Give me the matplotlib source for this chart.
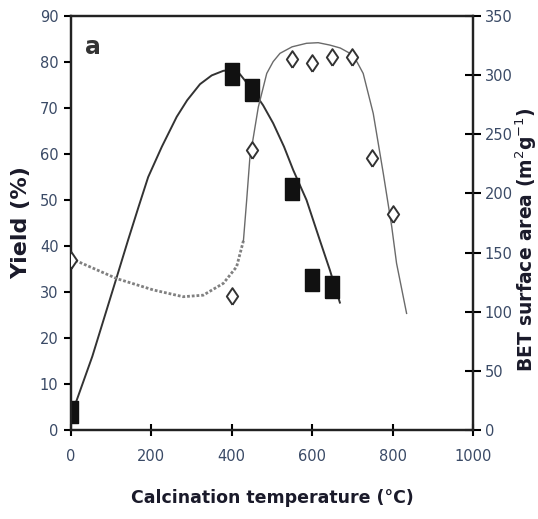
import matplotlib

matplotlib.use("Agg")
import matplotlib.pyplot as plt

# measured points
temp_yield = [0, 400, 450, 550, 600, 650]
yield_pct = [4, 77.5, 74, 52.4, 32.6, 31.2]

temp_bet = [0, 400, 450, 550, 600, 650, 700, 750, 800]
bet_area = [144, 113, 237, 314, 310, 315, 315, 230, 183]

# fitted trend lines, traced points
fit_yield_t = [0, 53, 114, 142, 168, 192, 226, 263, 289, 321, 350, 379, 400, 420, 451,
               478, 503, 530, 553, 586, 619, 644, 669]
fit_yield_v = [3, 16, 33.3, 41.3, 48.5, 55, 61.6, 68.1, 71.7, 75.2, 77.1, 78.1, 78.3, 77.4,
               74, 70.6, 66.7, 61.6, 56.5, 50, 41.3, 34.8, 27.7]

fit_bet_low_t = [0, 114, 205, 279, 329, 379, 412, 429]
fit_bet_low_v = [145, 128, 118.4, 112.7, 114, 124, 138, 160]
fit_bet_high_t = [429, 437, 445, 450, 466, 487, 503, 520, 550, 586, 615, 644, 670, 694,
                  712, 727, 752, 777, 798, 810, 835]
fit_bet_high_v = [160, 194, 230, 240, 273, 301.5, 311.5, 318.5, 324, 327, 327.5, 325.5,
                  323, 318.5, 311, 301.5, 267.7, 217, 172, 141, 98.6]

# tall markers (the chart is drawn slightly stretched vertically)
rect_marker = [(-0.64, -1), (0.64, -1), (0.64, 1), (-0.64, 1), (-0.64, -1)]
diamond_marker = [(0, -1), (0.68, 0), (0, 1), (-0.68, 0), (0, -1)]

fam = ["DejaVu Sans"]
fig = plt.figure(figsize=(5.38, 5.19), dpi=100)
ax = fig.add_axes([0.132, 0.1715, 0.747, 0.7975])
ax2 = ax.twinx()

ax.plot(fit_yield_t, fit_yield_v, color="#333333", lw=1.4, zorder=3)
ax.plot(temp_yield, yield_pct, ls="none", marker=rect_marker, color="#111111",
        ms=16.5, zorder=4)

ax2.plot(fit_bet_low_t, fit_bet_low_v, color="#808080", lw=2.0, ls=(0, (1.0, 0.7)), zorder=2)
ax2.plot(fit_bet_high_t, fit_bet_high_v, color="#6a6a6a", lw=1.0, zorder=2)
ax2.plot(temp_bet, bet_area, ls="none", marker=diamond_marker, mfc="white", mec="#333333",
         mew=1.4, ms=12, zorder=5)

ax.set_xlim(0, 1000)
ax.set_ylim(0, 90)
ax2.set_ylim(0, 350)
ax.set_xticks(range(0, 1001, 200))
ax.set_yticks(range(0, 91, 10))
ax2.set_yticks(range(0, 351, 50))

tick_color = "#3a4a66"
for a in (ax, ax2):
    for s in a.spines.values():
        s.set_linewidth(1.6)
        s.set_color("#222222")
    for lab in a.get_xticklabels() + a.get_yticklabels():
        lab.set_fontfamily(fam)
        lab.set_fontsize(10.5)
        lab.set_color(tick_color)
ax.tick_params(axis="y", direction="out", length=5, width=1.5, pad=4)
ax.tick_params(axis="x", direction="inout", length=9, width=1.5, pad=9)
ax2.tick_params(axis="y", direction="inout", length=11, width=1.5, pad=3)

ax.set_xlabel("Calcination temperature (°C)", fontsize=12.5, fontweight="bold",
              fontfamily=fam, color="#1a1a2a")
ax.xaxis.set_label_coords(0.5, -0.142)
ax.set_ylabel("Yield (%)", fontsize=16, fontweight="bold", fontfamily=fam,
              color="#1a1a2a")
ax.yaxis.set_label_coords(-0.1, 0.5)
ax2.set_ylabel("BET surface area (m$^2$g$^{-1}$)", fontsize=13.5, fontweight="bold",
               fontfamily=fam, color="#1a1a2a")
ax2.yaxis.set_label_coords(1.1, 0.46)
ax.text(0.035, 0.955, "a", transform=ax.transAxes, fontsize=17, fontweight="bold",
        fontfamily=fam, color="#333333", va="top")

fig.savefig("out.png", dpi=100)
